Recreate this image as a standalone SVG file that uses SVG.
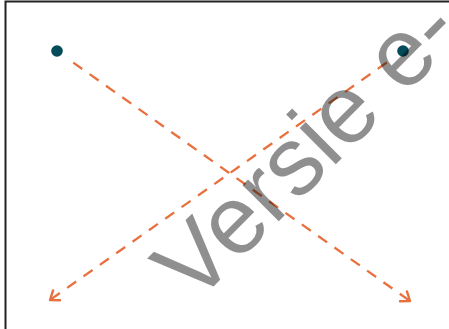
<svg xmlns="http://www.w3.org/2000/svg" width="449" height="329" viewBox="0 0 449 329">
<style>
.edge{fill:none;stroke:#e8703e;stroke-width:2.3;stroke-dasharray:11 9}
.dot{fill:#024b5a}
.wm{font-family:"Liberation Sans",Arial,sans-serif;font-size:97px;fill:#000;fill-opacity:0.44}
</style>
<defs>
<marker id="arr" markerUnits="userSpaceOnUse" markerWidth="20" markerHeight="20" refX="10" refY="10" orient="auto" overflow="visible">
<path d="M2,4 L10,10 L2,16" fill="none" stroke="#e8703e" stroke-width="2.4" stroke-linecap="round" stroke-linejoin="round"/>
</marker>
</defs>
<rect x="5.5" y="1.5" width="480" height="360" fill="#fff" stroke="#222" stroke-width="2"/>
<g id="connectors">
<path class="edge" d="M73.3,62.6 L410,301" marker-end="url(#arr)"/>
<path class="edge" d="M386.7,62.5 L50,300" marker-end="url(#arr)"/>
</g>
<g id="node-left"><circle class="dot" cx="57" cy="51" r="5.8"/></g>
<g id="node-right"><circle class="dot" cx="403" cy="51" r="5.8"/></g>
<text class="wm" transform="translate(194,306) rotate(-45)" x="0" y="0">Versie e-</text>
</svg>
